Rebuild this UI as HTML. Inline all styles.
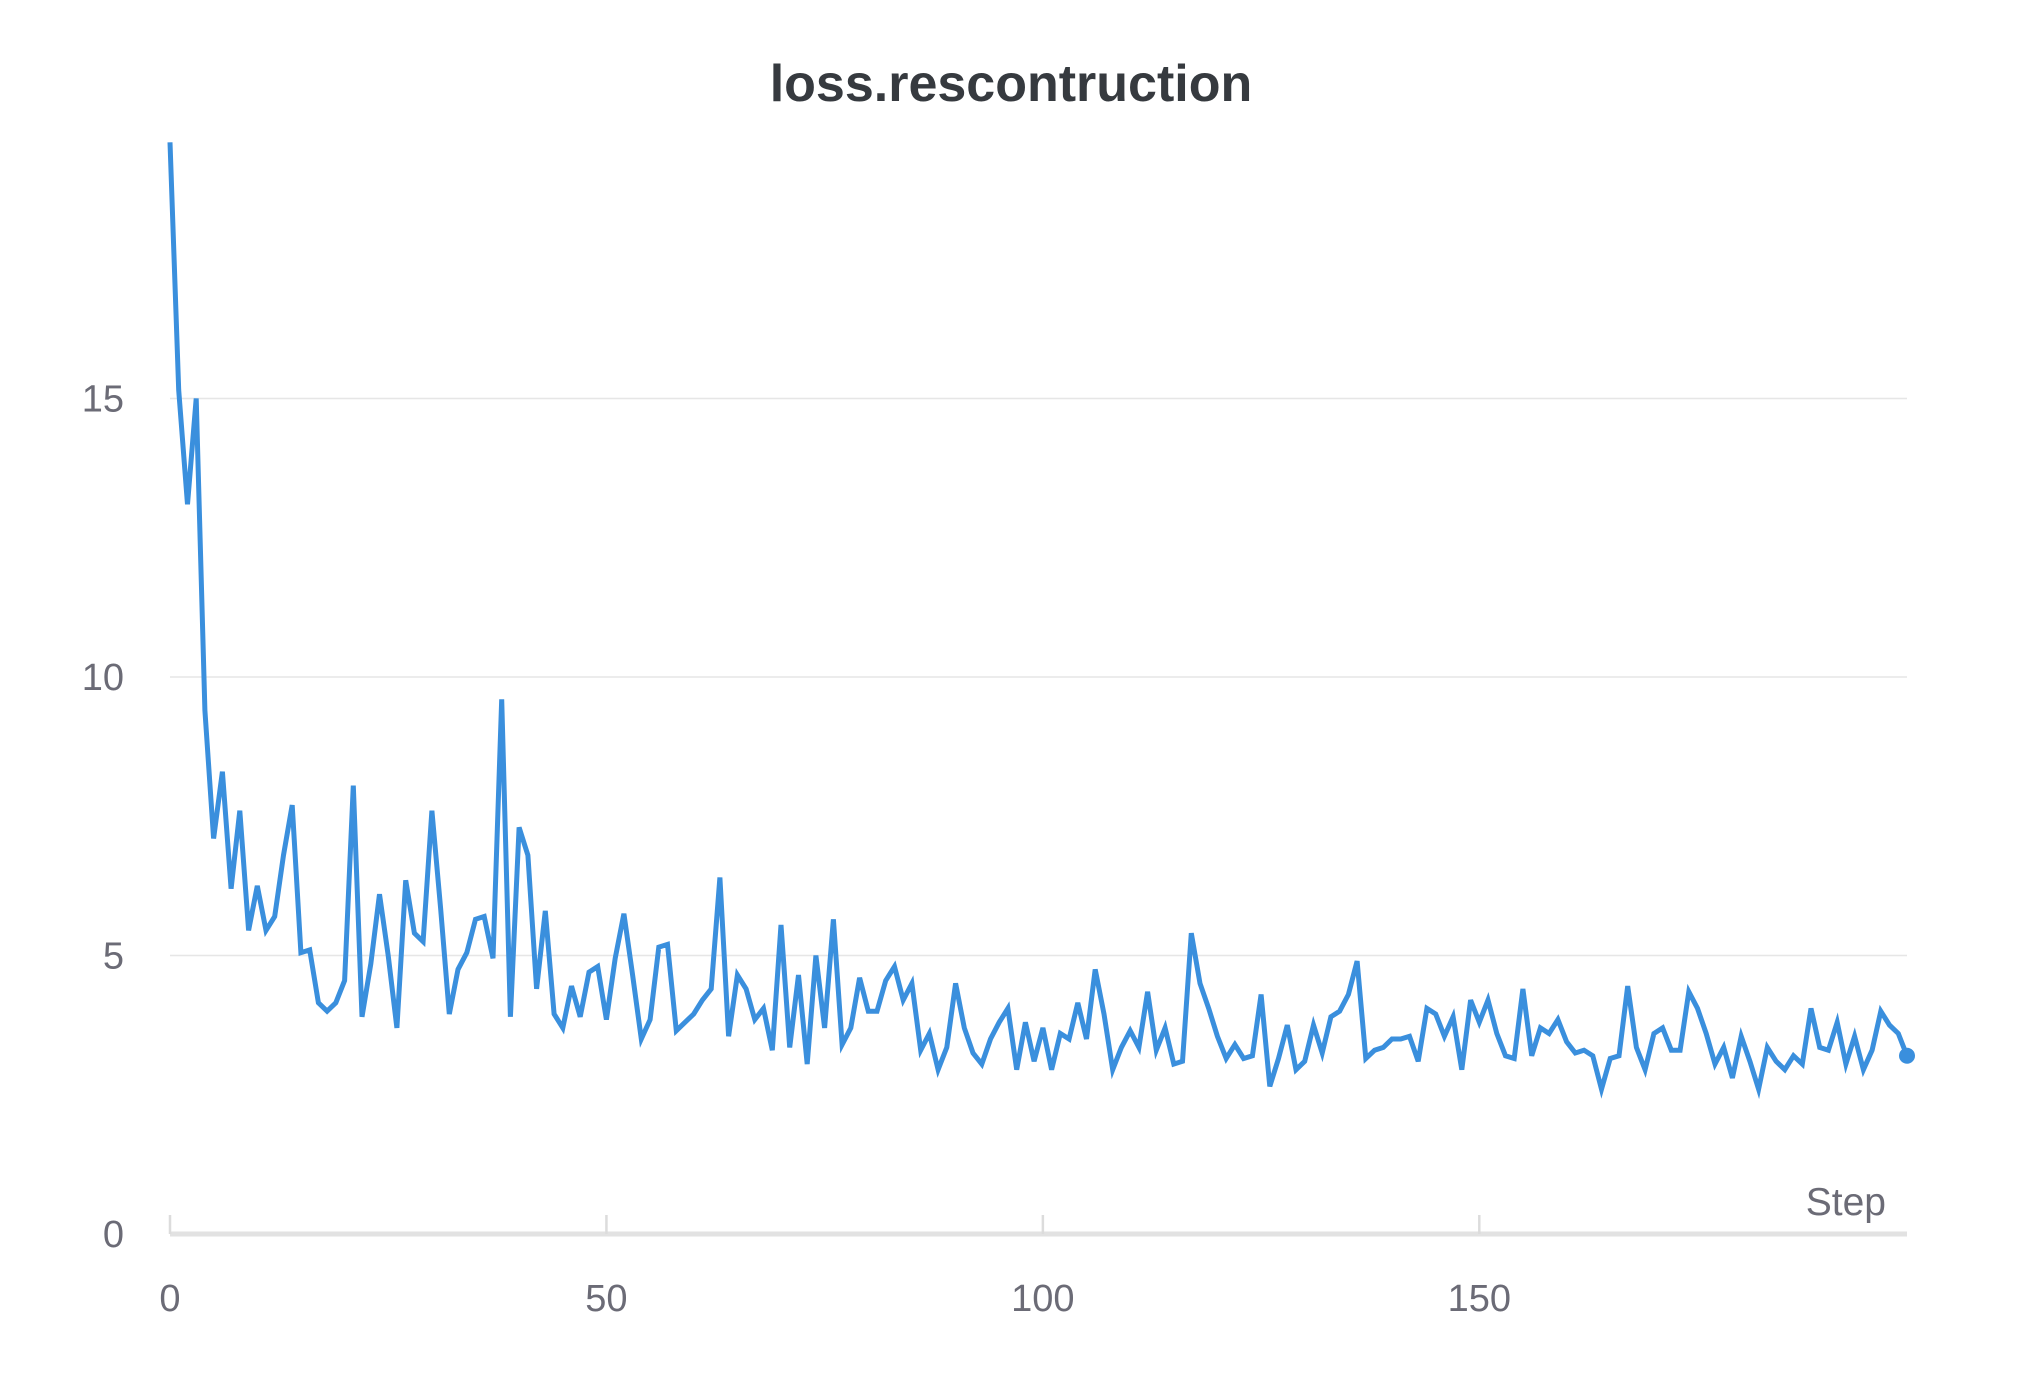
<!DOCTYPE html>
<html><head><meta charset="utf-8"><style>
html,body{margin:0;padding:0;background:#fff;width:2022px;height:1382px;overflow:hidden}
svg{display:block}
text{font-family:"Liberation Sans",sans-serif}
</style></head><body>
<svg id="chart" width="2022" height="1382" viewBox="0 0 2022 1382" xmlns="http://www.w3.org/2000/svg">
<text x="1011" y="101" text-anchor="middle" font-size="52" font-weight="bold" fill="#363a3f">loss.rescontruction</text>
<g id="grid"></g><g id="axes"></g><g id="series"></g>
</svg>
<script>
const yTicks=[0,5,10,15];
const xTicks=[0,50,100,150];
const values=[19.6,15.15,13.1,15.0,9.4,7.1,8.3,6.2,7.6,5.45,6.25,5.45,5.7,6.8,7.7,5.05,5.1,4.15,4.0,4.15,
4.55,8.05,3.9,4.85,6.1,5.0,3.7,6.35,5.4,5.25,7.6,5.85,3.95,4.75,5.05,5.65,5.7,4.95,9.6,3.9,
7.3,6.8,4.4,5.8,3.95,3.7,4.45,3.9,4.7,4.8,3.85,4.95,5.75,4.65,3.5,3.85,5.15,5.2,3.65,3.8,
3.95,4.2,4.4,6.4,3.55,4.65,4.4,3.85,4.05,3.3,5.55,3.35,4.65,3.05,5.0,3.7,5.65,3.4,3.7,4.6,
4.0,4.0,4.55,4.8,4.2,4.5,3.3,3.6,2.95,3.35,4.5,3.7,3.25,3.05,3.5,3.8,4.05,2.95,3.8,3.1,
3.7,2.95,3.6,3.5,4.15,3.5,4.75,3.95,2.95,3.35,3.65,3.35,4.35,3.3,3.7,3.05,3.1,5.4,4.5,4.05,
3.55,3.15,3.4,3.15,3.2,4.3,2.65,3.15,3.75,2.95,3.1,3.75,3.25,3.9,4.0,4.3,4.9,3.15,3.3,3.35,
3.5,3.5,3.55,3.1,4.05,3.95,3.55,3.9,2.95,4.2,3.8,4.2,3.6,3.2,3.15,4.4,3.2,3.7,3.6,3.85,
3.45,3.25,3.3,3.2,2.6,3.15,3.2,4.45,3.35,2.95,3.6,3.7,3.3,3.3,4.35,4.05,3.6,3.05,3.35,2.8,
3.55,3.1,2.6,3.35,3.1,2.95,3.2,3.05,4.05,3.35,3.3,3.8,3.05,3.55,2.95,3.3,4.0,3.75,3.6,3.2];
const NS="http://www.w3.org/2000/svg";
const X0=170,X1=1907,XMAX=199,Y0=1234,YU=55.7;
const xs=v=>X0+(X1-X0)*v/XMAX;
const ys=v=>Y0-v*YU;
function mk(t,a,p){const e=document.createElementNS(NS,t);for(const k in a)e.setAttribute(k,a[k]);p.appendChild(e);return e;}
const grid=document.getElementById('grid'),axes=document.getElementById('axes'),series=document.getElementById('series');
yTicks.forEach(v=>{
  if(v>0){const l=mk('line',{x1:X0,x2:X1,y1:ys(v),y2:ys(v),stroke:'#e6e6e6','stroke-width':1.5},grid);
  
  }
  const t=mk('text',{x:124,y:ys(v)+13,'text-anchor':'end','font-size':38,fill:'#6b6b76'},axes);
  t.textContent=v;
  
  
});
const ax=mk('line',{x1:X0,x2:X1,y1:Y0,y2:Y0,stroke:'#e2e2e2','stroke-width':5},axes);


xTicks.forEach(v=>{
  const tk=mk('line',{x1:xs(v),x2:xs(v),y1:Y0-19,y2:Y0,stroke:'#dcdcdc','stroke-width':2.5},axes);
  
  
  const t=mk('text',{x:xs(v),y:1311,'text-anchor':'middle','font-size':38,fill:'#6b6b76'},axes);
  t.textContent=v;
  
  
});
const st=mk('text',{x:1886,y:1215,'text-anchor':'end','font-size':39,fill:'#6b6b76'},axes);
st.textContent='Step';


const pts=values.map((v,i)=>xs(i).toFixed(1)+','+ys(v).toFixed(1)).join(' ');
const pl=mk('polyline',{points:pts,fill:'none',stroke:'#3a8fdd','stroke-width':5,'stroke-linejoin':'miter'},series);


const last=values.length-1;
const dot=mk('circle',{cx:xs(last),cy:ys(values[last]),r:8,fill:'#3a8fdd'},series);


</script>
</body></html>
